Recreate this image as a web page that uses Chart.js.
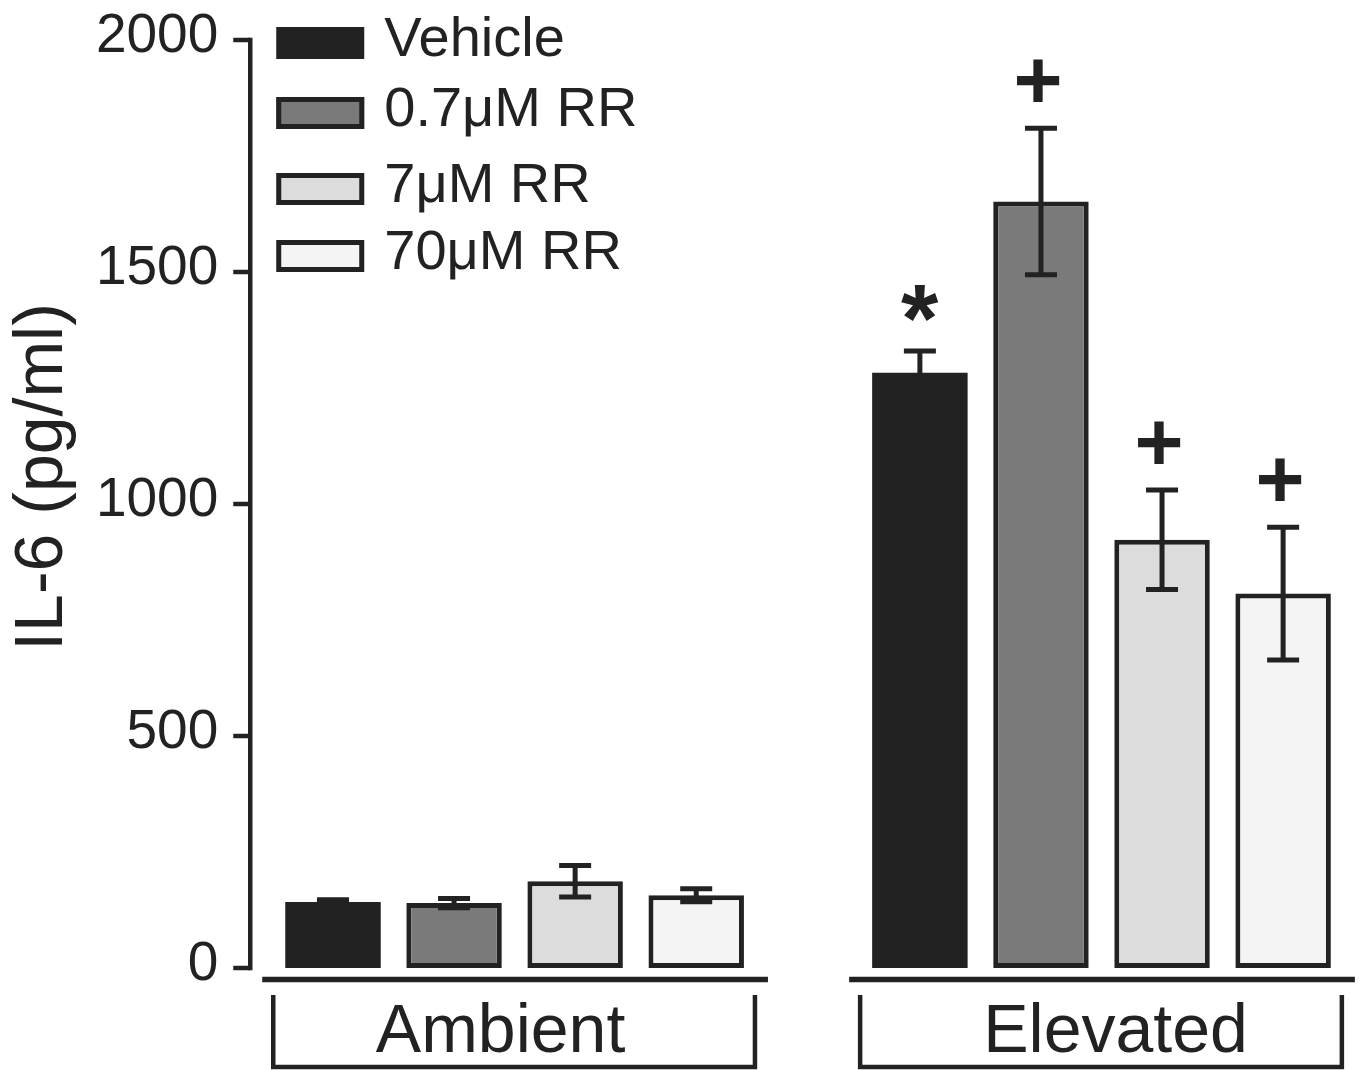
<!DOCTYPE html>
<html>
<head>
<meta charset="utf-8">
<script src="https://cdn.jsdelivr.net/npm/chart.js@4.4.1/dist/chart.umd.min.js"></script>
<style>
  html, body { margin: 0; padding: 0; background: #fff; }
  canvas { display: block; }
</style>
</head>
<body>
<canvas id="il6Chart" width="1361" height="1070"></canvas>
<script>
// === Dados ===
const groups = ["Ambient", "Elevated"];
const seriesNames = ["Vehicle", "0.7μM RR", "7μM RR", "70μM RR"];

const vehicle = [142, 1283];
const vehicleErr = [5, 47];
const vehicleSig = ["", "*"];

const rr07 = [140, 1652];
const rr07Err = [10, 158];
const rr07Sig = ["", "+"];

const rr7 = [187, 923];
const rr7Err = [34, 107];
const rr7Sig = ["", "+"];

const rr70 = [157, 807];
const rr70Err = [14, 143];
const rr70Sig = ["", "+"];

const yTicks = [0, 500, 1000, 1500, 2000];
const yTitle = "IL-6 (pg/ml)";

const INK = "#222222";
const FONT = '"Liberation Sans", Arial, Helvetica, sans-serif';

const fills = ["#222222", "#7a7a7a", "#dcdcdc", "#f4f4f4"];
const borders = [0, 5, 5, 5];

const seriesValues = [vehicle, rr07, rr7, rr70];
const seriesErrors = [vehicleErr, rr07Err, rr7Err, rr70Err];
const seriesSig = [vehicleSig, rr07Sig, rr7Sig, rr70Sig];

// === Eixos, legenda, barras de erro e marcas desenhados à mão ===
const figurePlugin = {
  id: "figure",
  afterDatasetsDraw(chart) {
    const { ctx } = chart;
    const y = chart.scales.y;
    const datasets = chart.data.datasets;
    const n = datasets.length;
    ctx.save();
    ctx.strokeStyle = INK;
    ctx.fillStyle = INK;
    ctx.lineCap = "butt";

    // barras de erro + significância
    datasets.forEach((ds, di) => {
      const meta = chart.getDatasetMeta(di);
      meta.data.forEach((bar, i) => {
        const v = ds.data[i];
        const e = ds.errors[i];
        const hi = y.getPixelForValue(v + e);
        const lo = y.getPixelForValue(v - e);
        ctx.lineWidth = 5;
        ctx.beginPath();
        ctx.moveTo(bar.x, hi);
        ctx.lineTo(bar.x, lo);
        ctx.moveTo(bar.x - 16, hi);
        ctx.lineTo(bar.x + 16, hi);
        ctx.moveTo(bar.x - 16, lo);
        ctx.lineTo(bar.x + 16, lo);
        ctx.stroke();

        const s = ds.marks[i];
        if (s) {
          ctx.font = "bold " + (s === "*" ? 96 : 84) + "px " + FONT;
          const m = ctx.measureText(s);
          const cy = hi - 48;
          const bx = bar.x - (m.actualBoundingBoxRight - m.actualBoundingBoxLeft) / 2;
          const by = cy + (m.actualBoundingBoxAscent - m.actualBoundingBoxDescent) / 2;
          ctx.textAlign = "left";
          ctx.textBaseline = "alphabetic";
          ctx.fillText(s, bx + m.actualBoundingBoxLeft, by);
        }
      });
    });

    // eixo y
    const first = chart.getDatasetMeta(0).data[0];
    const axisX = first.x - first.width / 2 - 35;
    const top = y.getPixelForValue(yTicks[yTicks.length - 1]);
    const bottom = y.getPixelForValue(yTicks[0]);
    ctx.lineWidth = 4.5;
    ctx.beginPath();
    ctx.moveTo(axisX, top - 2.25);
    ctx.lineTo(axisX, bottom + 2.25);
    ctx.stroke();
    ctx.font = "55px " + FONT;
    ctx.textAlign = "right";
    ctx.textBaseline = "alphabetic";
    yTicks.forEach((t) => {
      const py = y.getPixelForValue(t);
      ctx.beginPath();
      ctx.moveTo(axisX - 17, py);
      ctx.lineTo(axisX, py);
      ctx.stroke();
      const m = ctx.measureText(String(t));
      const cy = py - 7;
      ctx.fillText(String(t), axisX - 32, cy + (m.actualBoundingBoxAscent - m.actualBoundingBoxDescent) / 2);
    });

    // título do eixo y
    ctx.save();
    ctx.font = "68px " + FONT;
    ctx.translate(62, (top + bottom) / 2 - 27);
    ctx.rotate(-Math.PI / 2);
    ctx.textAlign = "center";
    ctx.fillText(yTitle, 0, 0);
    ctx.restore();

    // eixo x em segmentos + colchetes por grupo
    const labelShift = [-14, 14];
    groups.forEach((g, gi) => {
      const a = chart.getDatasetMeta(0).data[gi];
      const b = chart.getDatasetMeta(n - 1).data[gi];
      const left = a.x - a.width / 2;
      const right = b.x + b.width / 2;
      const base = y.getPixelForValue(0);

      ctx.lineWidth = 5.5;
      ctx.beginPath();
      ctx.moveTo(left - 23, base + 11.5);
      ctx.lineTo(right + 24, base + 11.5);
      ctx.stroke();

      ctx.lineWidth = 4.5;
      ctx.beginPath();
      ctx.moveTo(left - 12, base + 27);
      ctx.lineTo(left - 12, base + 99);
      ctx.lineTo(right + 11, base + 99);
      ctx.lineTo(right + 11, base + 27);
      ctx.stroke();

      ctx.font = "68px " + FONT;
      ctx.textAlign = "center";
      ctx.textBaseline = "alphabetic";
      ctx.fillText(g, (left + right) / 2 + labelShift[gi], base + 84);
    });

    // legenda
    const rows = [43, 113, 189, 256];
    const boxX = axisX + 26;
    ctx.font = "56px " + FONT;
    ctx.textAlign = "left";
    datasets.forEach((ds, di) => {
      const cy = rows[di];
      ctx.fillStyle = ds.backgroundColor;
      ctx.fillRect(boxX, cy - 16, 88, 32);
      if (ds.borderWidth > 0) {
        ctx.lineWidth = ds.borderWidth;
        ctx.strokeStyle = ds.borderColor;
        ctx.strokeRect(boxX + 2.5, cy - 13.5, 83, 27);
      }
      ctx.fillStyle = INK;
      ctx.fillText(ds.label, boxX + 108, cy + 13);
    });

    ctx.restore();
  },
};

const ctx = document.getElementById("il6Chart").getContext("2d");

new Chart(ctx, {
  type: "bar",
  data: {
    labels: groups,
    datasets: seriesNames.map((name, i) => ({
      label: name,
      data: seriesValues[i],
      errors: seriesErrors[i],
      marks: seriesSig[i],
      backgroundColor: fills[i],
      borderColor: INK,
      borderWidth: borders[i],
      borderSkipped: false,
      clip: false,
    })),
  },
  options: {
    responsive: false,
    devicePixelRatio: 1,
    animation: false,
    events: [],
    categoryPercentage: 0.8252,
    barPercentage: 0.7886,
    layout: {
      padding: { left: 514.6, right: 259.5, top: 40, bottom: 102 },
    },
    scales: {
      x: { type: "category", offset: false, display: false },
      y: { min: 0, max: 2000, display: false },
    },
    plugins: {
      legend: { display: false },
      tooltip: { enabled: false },
    },
  },
  plugins: [figurePlugin],
});
</script>
</body>
</html>
